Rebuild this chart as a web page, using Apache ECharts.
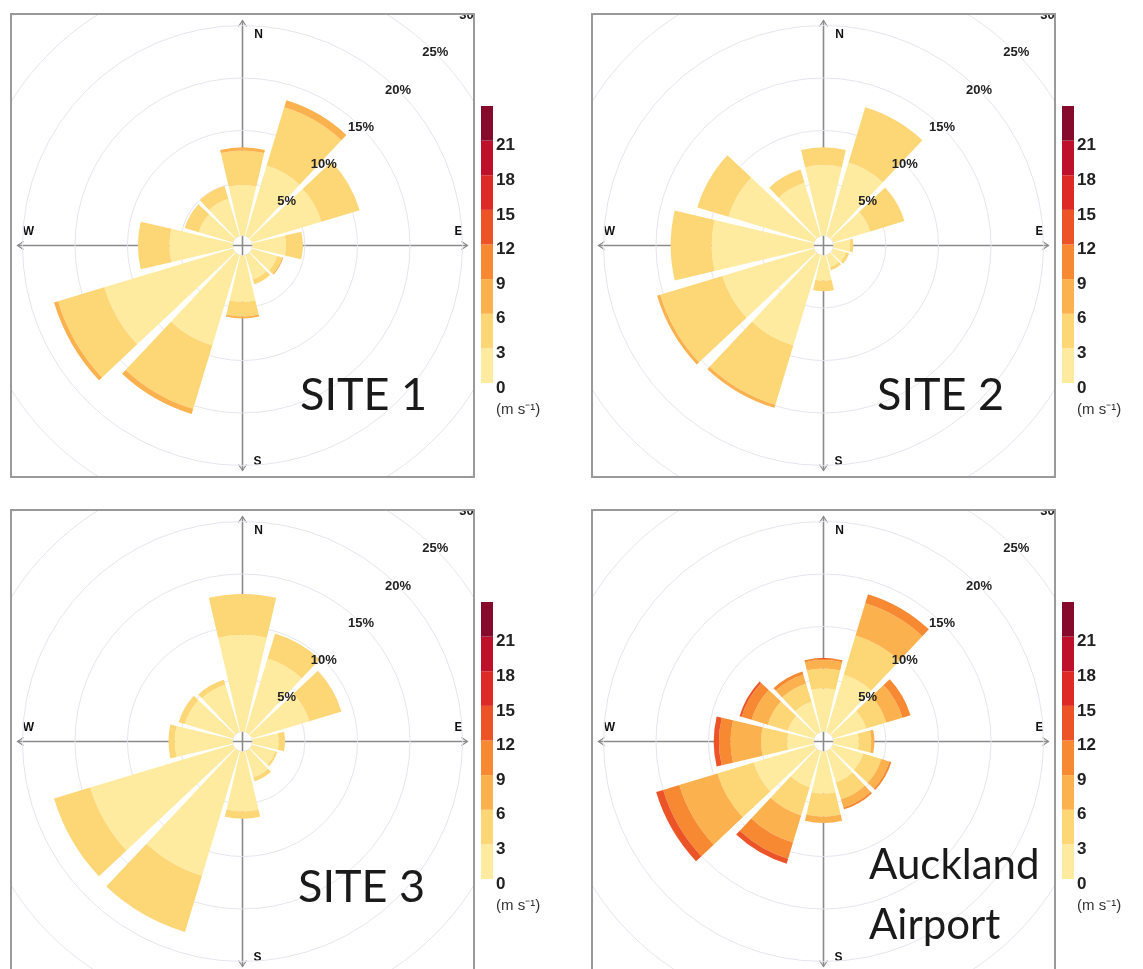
<!DOCTYPE html>
<html>
<head>
<meta charset="utf-8">
<title>Wind roses</title>
<script src="https://cdn.jsdelivr.net/npm/echarts@6/dist/echarts.min.js"></script>
<style>
  html, body { margin: 0; padding: 0; background: #fff; }
  body { width: 1143px; height: 969px; position: relative; overflow: hidden; }
  .frame { position: absolute; width: 465px; height: 465px; border: 2px solid #9a9a9a; box-sizing: border-box; overflow: hidden; }
  .frame > div { width: 100%; height: 100%; }
  .scale { position: absolute; width: 110px; height: 465px; }
</style>
</head>
<body>
<div class="frame" style="left:10px;top:13px"><div id="rose1"></div></div>
<div class="scale" style="left:476px;top:13px" id="bar1"></div>
<div class="frame" style="left:591px;top:13px"><div id="rose2"></div></div>
<div class="scale" style="left:1057px;top:13px" id="bar2"></div>
<div class="frame" style="left:10px;top:509px"><div id="rose3"></div></div>
<div class="scale" style="left:476px;top:509px" id="bar3"></div>
<div class="frame" style="left:591px;top:509px"><div id="rose4"></div></div>
<div class="scale" style="left:1057px;top:509px" id="bar4"></div>

<script>
// sector centres, clockwise from north (30 degree sectors)
const directions = ['N', 'NNE', 'ENE', 'E', 'ESE', 'SSE', 'S', 'SSW', 'WSW', 'W', 'WNW', 'NNW'];
// wind speed bins, m/s
const speedBins = ['0-3', '3-6', '6-9', '9-12', '12-15', '15-18', '18-21', '21-24'];
const speedEdges = [0, 3, 6, 9, 12, 15, 18, 21, 24];
const binColors = ['#FEEBA0', '#FDD676', '#FBB14D', '#F68932', '#EC5428', '#DE2A26', '#BE102B', '#850A2C'];
// radial rings (% frequency)
const ringStep = 5;
const ringMax = 30;

// frequency (%) by direction, one row per speed bin
const site1 = [
  [4.8, 7.0, 6.9, 3.2, 2.5, 2.4, 4.4, 9.0, 12.8, 6.0, 3.4, 3.7],
  [3.3, 5.8, 3.8, 1.6, 0.5, 0.5, 1.4, 6.3, 4.6, 3.0, 1.4, 1.3],
  [0.3, 0.7, 0.0, 0.0, 0.1, 0.0, 0.2, 0.5, 0.4, 0.0, 0.0, 0.0]
];
const site2 = [
  [6.7, 7.3, 3.7, 1.6, 1.3, 1.2, 2.4, 9.0, 9.1, 9.7, 8.5, 5.3],
  [1.7, 5.5, 3.4, 0.3, 0.3, 0.3, 1.0, 5.9, 6.2, 3.9, 3.1, 1.3],
  [0.0, 0.0, 0.0, 0.0, 0.0, 0.0, 0.0, 0.3, 0.3, 0.0, 0.0, 0.0]
];
const site3 = [
  [9.2, 7.3, 5.7, 2.5, 2.3, 2.6, 5.7, 12.4, 14.2, 5.5, 4.8, 4.7],
  [3.9, 2.5, 3.2, 0.6, 0.2, 0.4, 0.7, 5.6, 3.6, 0.6, 0.6, 0.5]
];
const airport = [
  [4.1, 5.7, 3.3, 2.4, 3.0, 3.1, 4.0, 3.6, 6.0, 2.5, 2.6, 3.0],
  [1.9, 3.9, 2.0, 1.2, 1.8, 1.7, 2.2, 2.8, 3.6, 2.5, 2.0, 1.8],
  [0.8, 3.2, 1.6, 0.3, 0.8, 0.8, 0.6, 2.7, 3.8, 2.9, 1.6, 0.9],
  [0.2, 0.9, 0.8, 0.0, 0.2, 0.2, 0.0, 1.6, 1.6, 1.1, 1.0, 0.3],
  [0.0, 0.0, 0.0, 0.0, 0.0, 0.0, 0.0, 0.5, 0.7, 0.5, 0.2, 0.0]
];

const labelFont = 'Liberation Sans';
const titleFont = 'Lato';

function drawRose(domId, rows, titleLines, titleX, titleY, titleSize, titleGap) {
  const chart = echarts.init(document.getElementById(domId));
  const cx = chart.getWidth() / 2;
  const cy = chart.getHeight() / 2;
  const arm = 225;
  const inner = 10;
  const outer = inner + ringMax * 10.5;
  const grey = '#8a8a8a';

  const series = rows.map((vals, i) => ({
    name: speedBins[i],
    type: 'bar',
    coordinateSystem: 'polar',
    polarIndex: 0,
    stack: 'speed',
    barCategoryGap: '12%',
    data: vals,
    itemStyle: { color: binColors[i] },
    silent: true
  }));

  const arrow = (x, y, dx, dy) => ({
    type: 'polyline', z: 0, silent: true,
    shape: { points: [[x - dx * 6 - dy * 4, y - dy * 6 - dx * 4], [x, y], [x - dx * 6 + dy * 4, y - dy * 6 + dx * 4]] },
    style: { stroke: grey, lineWidth: 1.2, fill: null }
  });
  const compass = (text, x, y) => ({
    type: 'text', z: 0, silent: true, x: x, y: y,
    style: { text: text, font: 'bold 12px ' + labelFont, fill: '#111', align: 'center', verticalAlign: 'middle' }
  });

  const graphic = [
    { type: 'line', z: 0, silent: true, shape: { x1: cx, y1: cy - arm, x2: cx, y2: cy + arm }, style: { stroke: grey, lineWidth: 1.6 } },
    { type: 'line', z: 0, silent: true, shape: { x1: cx - arm, y1: cy, x2: cx + arm, y2: cy }, style: { stroke: grey, lineWidth: 1.6 } },
    arrow(cx, cy - arm, 0, -1), arrow(cx, cy + arm, 0, 1),
    arrow(cx - arm, cy, -1, 0), arrow(cx + arm, cy, 1, 0),
    compass('N', cx + 16, cy - 211), compass('S', cx + 15, cy + 216),
    compass('W', cx - 214, cy - 14), compass('E', cx + 216, cy - 14)
  ];
  titleLines.forEach((t, i) => {
    graphic.push({
      type: 'text', z: 100, silent: true, x: titleX, y: titleY + i * titleGap,
      style: { text: t, font: titleSize + 'px ' + titleFont, fill: '#1a1a1a', align: 'left', verticalAlign: 'middle' }
    });
  });

  chart.setOption({
    animation: false,
    polar: [
      { center: ['50%', '50%'], radius: [inner, outer] },
      { center: ['50%', '50%'], radius: [inner, outer] }
    ],
    angleAxis: [
      {
        polarIndex: 0, type: 'category', data: directions, startAngle: 105, clockwise: true,
        axisLine: { show: false }, axisTick: { show: false }, axisLabel: { show: false }, splitLine: { show: false }
      },
      { polarIndex: 1, type: 'value', min: 0, max: 360, startAngle: 45, show: false }
    ],
    radiusAxis: [
      {
        polarIndex: 0, type: 'value', min: 0, max: ringMax, interval: ringStep,
        axisLine: { show: false }, axisTick: { show: false }, axisLabel: { show: false },
        splitLine: { show: true, lineStyle: { color: '#e5e5ee', width: 1 } }
      },
      {
        polarIndex: 1, type: 'value', min: 0, max: ringMax, interval: ringStep, z: 10,
        axisLine: { show: false }, axisTick: { show: false }, splitLine: { show: false },
        axisLabel: {
          show: true, margin: 0, align: 'center', verticalAlign: 'middle',
          fontFamily: labelFont, fontWeight: 'bold', fontSize: 13, color: '#222',
          formatter: v => (v > 0 ? v + '%' : '')
        }
      }
    ],
    series: series,
    graphic: graphic
  });
}

function drawScale(domId) {
  const chart = echarts.init(document.getElementById(domId));
  const series = speedBins.map((b, i) => ({
    name: b,
    type: 'bar',
    stack: 'scale',
    barWidth: '100%',
    data: [speedEdges[i + 1] - speedEdges[i]],
    itemStyle: { color: binColors[i] },
    silent: true
  }));
  chart.setOption({
    animation: false,
    grid: { left: 5, top: 93, width: 12, height: 277 },
    xAxis: { type: 'category', data: ['speed'], show: false },
    yAxis: {
      type: 'value', position: 'right', min: speedEdges[0], max: speedEdges[speedEdges.length - 1], interval: 3,
      axisLine: { show: false }, axisTick: { show: false }, splitLine: { show: false },
      axisLabel: {
        margin: 3, fontFamily: labelFont, fontWeight: 'bold', fontSize: 17, color: '#222',
        verticalAlign: 'top', lineHeight: 10,
        formatter: v => (v < speedEdges[speedEdges.length - 1] ? String(v) : '')
      }
    },
    series: series,
    graphic: [{
      type: 'text', silent: true, x: 20, y: 397,
      style: { text: '(m s\u207B\u00B9)', font: '15px ' + labelFont, fill: '#333', align: 'left', verticalAlign: 'middle' }
    }]
  });
}

drawRose('rose1', site1, ['SITE 1'], 288, 380, 45, 0);
drawRose('rose2', site2, ['SITE 2'], 284, 380, 45, 0);
drawRose('rose3', site3, ['SITE 3'], 286, 376, 45, 0);
drawRose('rose4', airport, ['Auckland', 'Airport'], 276, 354, 42, 60);
['bar1', 'bar2', 'bar3', 'bar4'].forEach(drawScale);
</script>
</body>
</html>
